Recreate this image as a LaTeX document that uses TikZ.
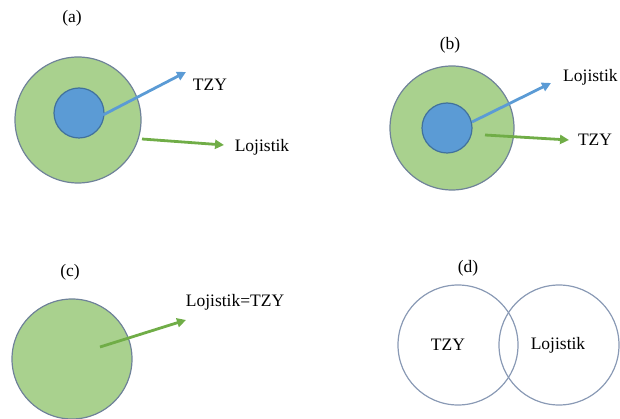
\documentclass[tikz,border=0pt]{standalone}
\usepackage{fontspec}
\setmainfont{Liberation Serif}
\usetikzlibrary{arrows.meta}
\definecolor{outergreen}{HTML}{A9D18E}
\definecolor{innerblue}{HTML}{5B9BD5}
\definecolor{rimblue}{HTML}{41719C}
\definecolor{rimgray}{HTML}{6F8299}
\definecolor{arrowblue}{HTML}{5B9BD5}
\definecolor{arrowgreen}{HTML}{70AD47}
\definecolor{venngray}{HTML}{8A9AB5}
\tikzset{
  setouter/.style={circle, draw=rimgray, line width=1.2pt, fill=outergreen, inner sep=0pt, minimum size=#1},
  setinner/.style={circle, draw=rimblue, line width=1.2pt, fill=innerblue, inner sep=0pt, minimum size=#1},
  vennring/.style={circle, draw=venngray, line width=1.2pt, inner sep=0pt, minimum size=120pt},
  bluearrow/.style={draw=arrowblue, line width=2.8pt, -{Triangle[length=9pt,width=9pt]}},
  greenarrow/.style={draw=arrowgreen, line width=2.8pt, -{Triangle[length=9pt,width=9pt]}},
  caption/.style={font=\fontsize{17.5}{20}\selectfont, inner sep=0pt},
  setname/.style={font=\fontsize{17.5}{20}\selectfont, inner sep=0pt}
}
\begin{document}
\begin{tikzpicture}[x=1pt, y=-1pt]
  \useasboundingbox (0,0) rectangle (620,419);

  % (a) inner set inside the outer set
  \node[caption] (capa) at (72,18) {(a)};
  \node[setouter=126pt] (aout) at (78,120) {};
  \node[setinner=50pt] (ain) at (79,113) {};
  \node[setname] (atzy) at (210,85) {TZY};
  \node[setname] (aloj) at (262,147) {Lojistik};
  \coordinate (abs) at (103,115);
  \coordinate (abe) at (186,72);
  \coordinate (ags) at (142,139);
  \coordinate (age) at (224,145);
  \draw[bluearrow] (abs) -- (abe);
  \draw[greenarrow] (ags) -- (age);

  % (b) same nesting, labels swapped
  \node[caption] (capb) at (450,45) {(b)};
  \node[setouter=124pt] (bout) at (452,128) {};
  \node[setinner=50pt] (bin) at (447,128) {};
  \node[setname, anchor=west] (bloj) at (563,77) {Lojistik};
  \node[setname] (btzy) at (595,140) {TZY};
  \coordinate (bbs) at (472,122);
  \coordinate (bbe) at (551,83);
  \coordinate (bgs) at (485,135);
  \coordinate (bge) at (569,140);
  \draw[bluearrow] (bbs) -- (bbe);
  \draw[greenarrow] (bgs) -- (bge);

  % (c) a single set
  \node[caption] (capc) at (70,272) {(c)};
  \node[setouter=120pt] (cout) at (72,359) {};
  \node[setname] (cloj) at (235,302) {Lojistik=TZY};
  \coordinate (cgs) at (100,347);
  \coordinate (cge) at (186,320);
  \draw[greenarrow] (cgs) -- (cge);

  % (d) two overlapping sets
  \node[caption] (capd) at (468,268) {(d)};
  \node[vennring] (dl) at (458,345) {};
  \node[vennring] (dr) at (559,345) {};
  \node[setname] (dtzy) at (448,345) {TZY};
  \node[setname] (dloj) at (558,345) {Lojistik};
\end{tikzpicture}
\end{document}
